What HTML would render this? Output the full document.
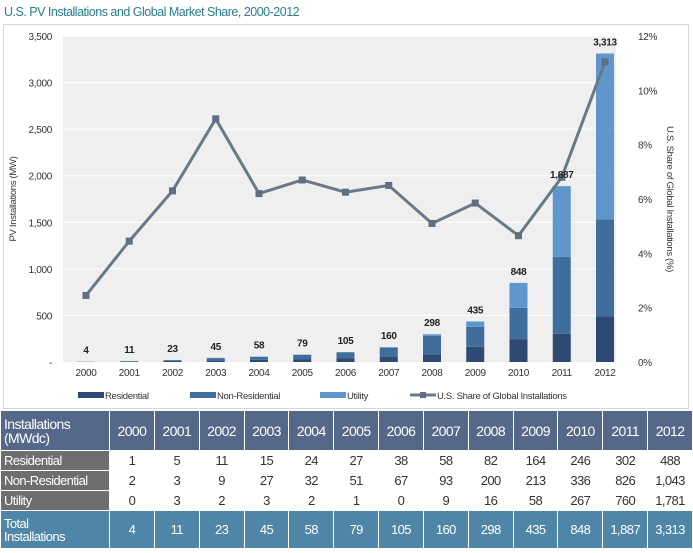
<!DOCTYPE html>
<html><head><meta charset="utf-8"><style>
body{margin:0;width:693px;height:553px;background:#fff;font-family:"Liberation Sans",sans-serif;overflow:hidden;position:relative}
#title{position:absolute;left:4px;top:5px;font-size:12.5px;color:#2a7d8e;letter-spacing:-0.5px}
#frame{position:absolute;left:3px;top:24px;width:686px;height:385px;border:1px solid #d8d8d8;box-sizing:border-box}
svg text{font-family:"Liberation Sans",sans-serif;letter-spacing:-0.3px}
table{position:absolute;left:0;top:410px;width:693px;border-collapse:collapse;font-size:13px;letter-spacing:-0.6px;table-layout:fixed}
td{border:1px solid #fff;text-align:center;height:19px;padding:0;color:#333}
tr.h td{background:#56688a;color:#fff;font-size:14px;height:39px}
td.f{background:#6d6e70;color:#fff;text-align:left;padding-left:3px;width:105px}
tr.h td.f{background:#56688a}
tr.t td{background:#4f86a8;color:#fff;height:37px}
tr.t td.f{background:#4f86a8;line-height:13px}
tr.h td.f{line-height:14px}
</style></head><body>
<div id="title">U.S. PV Installations and Global Market Share, 2000-2012</div>
<div id="frame"></div>
<svg id="chart" width="693" height="410" style="position:absolute;left:0;top:0"></svg>
<table>
<tr class="h"><td class="f">Installations<br>(MWdc)</td><td>2000</td><td>2001</td><td>2002</td><td>2003</td><td>2004</td><td>2005</td><td>2006</td><td>2007</td><td>2008</td><td>2009</td><td>2010</td><td>2011</td><td>2012</td></tr>
<tr><td class="f">Residential</td><td>1</td><td>5</td><td>11</td><td>15</td><td>24</td><td>27</td><td>38</td><td>58</td><td>82</td><td>164</td><td>246</td><td>302</td><td>488</td></tr>
<tr><td class="f">Non-Residential</td><td>2</td><td>3</td><td>9</td><td>27</td><td>32</td><td>51</td><td>67</td><td>93</td><td>200</td><td>213</td><td>336</td><td>826</td><td>1,043</td></tr>
<tr><td class="f">Utility</td><td>0</td><td>3</td><td>2</td><td>3</td><td>2</td><td>1</td><td>0</td><td>9</td><td>16</td><td>58</td><td>267</td><td>760</td><td>1,781</td></tr>
<tr class="t"><td class="f">Total<br>Installations</td><td>4</td><td>11</td><td>23</td><td>45</td><td>58</td><td>79</td><td>105</td><td>160</td><td>298</td><td>435</td><td>848</td><td>1,887</td><td>3,313</td></tr>
</table>
<script>
const years=["2000","2001","2002","2003","2004","2005","2006","2007","2008","2009","2010","2011","2012"];
const residential=[1,5,11,15,24,27,38,58,82,164,246,302,488];
const nonResidential=[2,3,9,27,32,51,67,93,200,213,336,826,1043];
const utility=[0,3,2,3,2,1,0,9,16,58,267,760,1781];
const totals=[4,11,23,45,58,79,105,160,298,435,848,1887,3313];
const share=[2.45,4.45,6.3,8.95,6.2,6.7,6.25,6.5,5.1,5.85,4.65,6.8,11.05];
const leftTicks=[0,500,1000,1500,2000,2500,3000,3500];
const rightTicks=[0,2,4,6,8,10,12];
const NS="http://www.w3.org/2000/svg";
const svg=document.getElementById('chart');
const y0=362,y1=36;
const yL=v=>y0-(v/3500)*(y0-y1);
const yR=v=>y0-(v/12)*(y0-y1);
const xC=i=>86+i*43.25;
function mk(t,a,txt){const e=document.createElementNS(NS,t);for(const k in a)e.setAttribute(k,a[k]);if(txt!==undefined)e.textContent=txt;svg.appendChild(e);return e;}
let e=mk('rect',{x:63,y:y1,width:553,height:y0-y1,fill:'#efefef'});


leftTicks.forEach(v=>{
 if(v>0){const g=mk('line',{x1:63,x2:616,y1:yL(v),y2:yL(v),stroke:'#fff','stroke-width':1});
 
 }
 const t=mk('text',{x:52,y:yL(v)+4,'text-anchor':'end','font-size':10,fill:'#333'},v===0?'-':v.toLocaleString('en-US'));
 
 
});
rightTicks.forEach(v=>{
 const t=mk('text',{x:638,y:yR(v)+4,'font-size':10,fill:'#333'},v+'%');
 
 
});
let at=mk('text',{transform:'translate(16,199) rotate(-90)','text-anchor':'middle','font-size':9.5,fill:'#333'},'PV Installations (MW)');


at=mk('text',{transform:'translate(667,199) rotate(90)','text-anchor':'middle','font-size':9.5,fill:'#333'},'U.S. Share of Global Installations (%)');


const bw=18;
years.forEach((yr,i)=>{
 const x=xC(i)-bw/2;
 const segs=[[residential[i],'#2e4a72','bar-residential'],[nonResidential[i],'#3f6e9c','bar-non-residential'],[utility[i],'#5f97cc','bar-utility']];
 let base=0;
 segs.forEach(s=>{
  const r=mk('rect',{x:x,y:yL(base+s[0]),width:bw,height:yL(base)-yL(base+s[0]),fill:s[1]});
  
  
  base+=s[0];
 });
 const xl=mk('text',{x:xC(i),y:y0+14,'text-anchor':'middle','font-size':10,fill:'#333'},yr);
 
 
});
const pl=mk('polyline',{points:share.map((v,i)=>xC(i)+','+yR(v)).join(' '),fill:'none',stroke:'#6a7888','stroke-width':3});


share.forEach((v,i)=>{
 const m=mk('rect',{x:xC(i)-3.5,y:yR(v)-3.5,width:7,height:7,fill:'#5f6e80'});
 
 
});
totals.forEach((v,i)=>{
 const lb=mk('text',{x:xC(i),y:yL(v)-8,'text-anchor':'middle','font-size':10,'font-weight':'bold',fill:'#222'},v.toLocaleString('en-US'));
 
 
});
const leg=[[78,'#2e4a72','Residential'],[190,'#3f6e9c','Non-Residential'],[320,'#5f97cc','Utility']];
leg.forEach(l=>{
 const r=mk('rect',{x:l[0],y:392,width:26,height:6,fill:l[1]});
 
 
 const t=mk('text',{x:l[0]+27,y:399,'font-size':9.5,fill:'#333'},l[2]);
 
 
});
let ll=mk('line',{x1:410,x2:436,y1:395,y2:395,stroke:'#6a7888','stroke-width':3});


ll=mk('rect',{x:420,y:392,width:6,height:6,fill:'#5f6e80'});


ll=mk('text',{x:437,y:399,'font-size':9.5,fill:'#333'},'U.S. Share of Global Installations');


</script>
</body></html>
